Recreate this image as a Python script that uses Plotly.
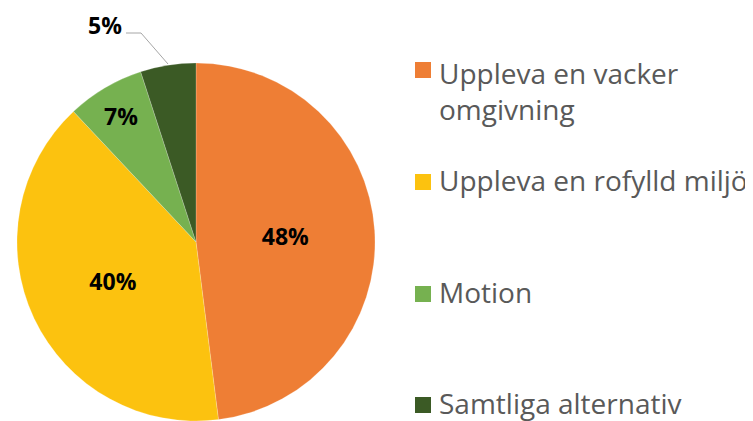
import plotly.graph_objects as go

labels = ["Uppleva en vacker omgivning", "Uppleva en rofylld miljö", "Motion", "Samtliga alternativ"]
legend_texts = ["Uppleva en vacker<br>omgivning", "Uppleva en rofylld miljö", "Motion", "Samtliga alternativ"]
values = [48, 40, 7, 5]
colors = ["#EE7E35", "#FCC20F", "#76B150", "#3B5A25"]

W, H = 753, 421
OFF = 8  # page body margin in the browser


def px(x):
    return (x - OFF) / W


def py(y):
    return 1 - (y - OFF) / H


fig = go.Figure()
fig.add_trace(go.Pie(
    labels=labels,
    values=values,
    sort=False,
    direction="clockwise",
    rotation=0,
    marker=dict(colors=colors, line=dict(color="rgba(255,255,255,0.4)", width=0.5)),
    texttemplate="%{value}%",
    textposition=["inside", "inside", "inside", "none"],
    insidetextorientation="horizontal",
    textfont=dict(family="Open Sans", size=23, color="black", weight="bold"),
    showlegend=False,
    hoverinfo="label+percent",
    domain=dict(x=[px(15), px(377)], y=[py(421), py(63)]),
))

# Outside label for the smallest slice with a leader line
fig.add_annotation(
    x=px(105), y=py(25), xref="paper", yref="paper",
    text=f"<b>{values[3]}%</b>", showarrow=False,
    font=dict(family="Open Sans", size=23, color="black"),
    xanchor="center", yanchor="middle",
)
fig.add_shape(
    type="path", xref="paper", yref="paper",
    path=f"M {px(126)} {py(33)} L {px(141)} {py(33)} L {px(168)} {py(64)}",
    line=dict(color="#A6A6A6", width=1),
)

# Legend
sq_centers = [70, 182, 294, 405]
text_centers = [91, 180, 292, 403]
for i, lab in enumerate(legend_texts):
    c = sq_centers[i]
    fig.add_shape(
        type="rect", xref="paper", yref="paper",
        x0=px(415), x1=px(431), y0=py(c + 8), y1=py(c - 8),
        fillcolor=colors[i], line=dict(width=0),
    )
    fig.add_annotation(
        x=px(437), y=py(text_centers[i]), xref="paper", yref="paper",
        text=lab, showarrow=False, align="left",
        font=dict(family="Open Sans", size=28, color="#595959"),
        xanchor="left", yanchor="middle",
    )

fig.update_layout(
    width=W, height=H,
    margin=dict(l=0, r=0, t=0, b=0),
    paper_bgcolor="white",
    plot_bgcolor="white",
)

fig.write_html("out.html")
